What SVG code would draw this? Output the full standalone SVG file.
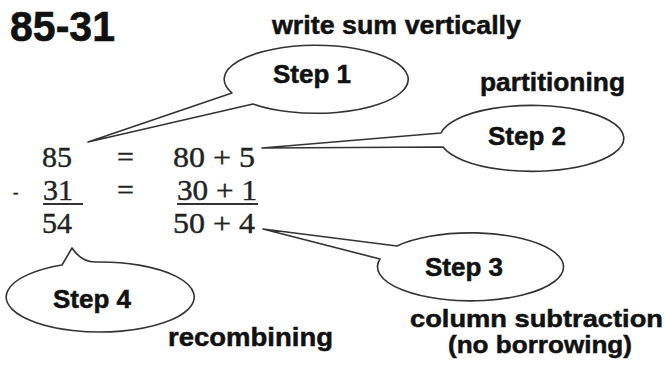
<svg xmlns="http://www.w3.org/2000/svg" width="665" height="368" viewBox="0 0 665 368">
<style>
.lbl{font-family:"Liberation Sans",Arial,sans-serif;font-weight:bold;font-size:26px;fill:#111;stroke:#111;stroke-width:0.5}
.sm{font-size:24px}
.title{font-family:"Liberation Sans",Arial,sans-serif;font-weight:bold;font-size:42px;fill:#111;stroke:#111;stroke-width:0.6}
.math{font-family:"Liberation Serif","Times New Roman",serif;font-size:30px;fill:#222;stroke:#222;stroke-width:0.4}
.bub{fill:#fff;stroke:#333;stroke-width:1.6;stroke-linejoin:round}
.rule{stroke:#333;stroke-width:2}
</style>
<rect width="665" height="368" fill="#fff"/>
<g id="title"><text class="title" x="10" y="41" textLength="105" lengthAdjust="spacingAndGlyphs">85-31</text></g>
<g id="sum">
<text class="math" x="42" y="167">85</text>
<text class="math" x="117" y="167">=</text>
<text class="math" x="173" y="167" textLength="82" lengthAdjust="spacingAndGlyphs">80 + 5</text>
<text class="math" x="13" y="198" style="font-size:16px">-</text>
<text class="math" x="43" y="200">31</text>
<text class="math" x="117" y="200">=</text>
<text class="math" x="177" y="200" textLength="80" lengthAdjust="spacingAndGlyphs">30 + 1</text>
<line class="rule" x1="43" y1="204" x2="83" y2="204"/>
<line class="rule" x1="177" y1="204" x2="258" y2="204"/>
<text class="math" x="42" y="233">54</text>
<text class="math" x="173" y="233" textLength="82" lengthAdjust="spacingAndGlyphs">50 + 4</text>
</g>
<g id="connectors">
<path id="tail-step1" class="bub" d="M 232 93 A 92 34 0 1 1 253 104 L 88 142 Z"/>
<path id="tail-step2" class="bub" d="M 441 133 A 92 33 0 1 1 443 147 L 262 148 Z"/>
<path id="tail-step3" class="bub" d="M 397 246 A 93 34 0 1 1 380 259 L 263 229 Z"/>
<path id="tail-step4" class="bub" d="M 97 262 A 94 35 0 1 1 62 265 L 72 248 Q 82 263 97 262 Z"/>
</g>
<g id="step1"><text class="lbl" x="273" y="83">Step 1</text></g>
<g id="step2"><text class="lbl" x="488" y="145">Step 2</text></g>
<g id="step3"><text class="lbl" x="425" y="276">Step 3</text></g>
<g id="step4"><text class="lbl" x="53" y="308">Step 4</text></g>
<g id="labels">
<text class="lbl" x="272" y="34" textLength="249" lengthAdjust="spacingAndGlyphs">write sum vertically</text>
<text class="lbl" x="480" y="91" textLength="145" lengthAdjust="spacingAndGlyphs">partitioning</text>
<text class="lbl sm" x="410" y="327" textLength="253" lengthAdjust="spacingAndGlyphs">column subtraction</text>
<text class="lbl sm" x="448" y="353" textLength="184" lengthAdjust="spacingAndGlyphs">(no borrowing)</text>
<text class="lbl" x="168" y="346" textLength="165" lengthAdjust="spacingAndGlyphs">recombining</text>
</g>
</svg>
